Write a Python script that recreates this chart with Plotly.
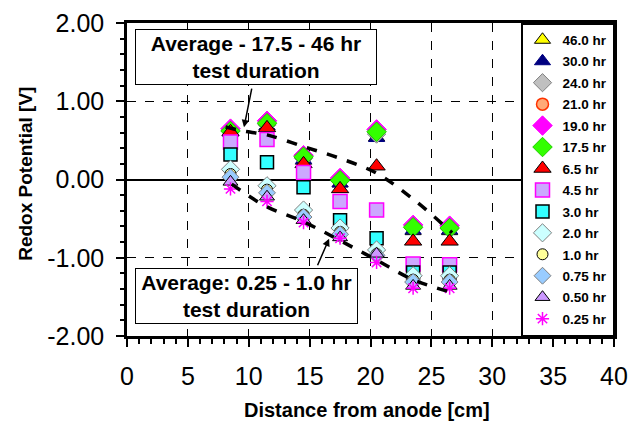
import plotly.graph_objects as go

# ---------------- data ----------------
distance = [8.5, 11.5, 14.5, 17.5, 20.5, 23.5, 26.5]

series_names = ["46.0 hr", "30.0 hr", "24.0 hr", "21.0 hr", "19.0 hr", "17.5 hr", "6.5 hr",
                "4.5 hr", "3.0 hr", "2.0 hr", "1.0 hr", "0.75 hr", "0.50 hr", "0.25 hr"]

h46_0 = [0.60, 0.68, 0.24, -0.05, 0.54, -0.66, -0.66]
h30_0 = [0.60, 0.68, 0.25, -0.05, 0.53, -0.65, -0.65]
h24_0 = [0.62, 0.70, 0.27, -0.02, 0.58, -0.62, -0.63]
h21_0 = [0.63, 0.72, 0.28, -0.01, 0.60, -0.61, -0.62]
h19_0 = [0.65, 0.75, 0.31, 0.02, 0.64, -0.58, -0.59]
h17_5 = [0.62, 0.72, 0.29, -0.01, 0.61, -0.61, -0.62]
h6_5 = [0.61, 0.66, 0.20, -0.12, 0.17, -0.79, -0.79]
h4_5 = [0.48, 0.51, 0.09, -0.28, -0.39, -1.08, -1.09]
h3_0 = [0.32, 0.22, -0.10, -0.52, -0.75, -1.19, -1.19]
h2_0 = [0.13, -0.08, -0.39, -0.62, -0.90, -1.23, -1.23]
h1_0 = [0.07, -0.13, -0.45, -0.67, -0.95, -1.28, -1.28]
h0_75 = [0.03, -0.17, -0.48, -0.70, -0.97, -1.31, -1.31]
h0_50 = [-0.03, -0.22, -0.52, -0.74, -0.95, -1.36, -1.36]
h0_25 = [-0.12, -0.28, -0.55, -0.75, -1.06, -1.39, -1.39]

series_values = [h46_0, h30_0, h24_0, h21_0, h19_0, h17_5, h6_5,
                 h4_5, h3_0, h2_0, h1_0, h0_75, h0_50, h0_25]

avg_high_x = [8.1, 9.5, 11.5, 14.5, 17.5, 20.5, 23.5, 26.7]
avg_high_y = [0.67, 0.62, 0.57, 0.42, 0.27, 0.08, -0.25, -0.68]
avg_low_x = [8.6, 9.8, 11.5, 14.5, 17.5, 20.5, 23.5, 26.8]
avg_low_y = [-0.06, -0.19, -0.35, -0.54, -0.78, -1.03, -1.28, -1.45]

x_ticks = [0, 5, 10, 15, 20, 25, 30, 35, 40]
y_ticks = [-2, -1, 0, 1, 2]

# ---------------- styles ----------------
styles = [
    dict(symbol="triangle-up", size=14, color="#FFFF00", line=dict(color="#000000", width=1)),
    dict(symbol="triangle-up", size=14, color="#000080", line=dict(color="#000080", width=1)),
    dict(symbol="diamond", size=14, color="#C0C0C0", line=dict(color="#808080", width=1)),
    dict(symbol="circle", size=12, color="#FFAA77", line=dict(color="#FF3300", width=1.5)),
    dict(symbol="diamond", size=15, color="#FF00FF", line=dict(color="#FF00FF", width=1)),
    dict(symbol="diamond", size=15, color="#33FF00", line=dict(color="#22CC00", width=1)),
    dict(symbol="triangle-up", size=15, color="#FF0000", line=dict(color="#000000", width=1)),
    dict(symbol="square", size=14, color="#CCA8FF", line=dict(color="#FF00FF", width=1.5)),
    dict(symbol="square", size=13, color="#33FFFF", line=dict(color="#000000", width=1.5)),
    dict(symbol="diamond", size=14, color="#CCFFFF", line=dict(color="#808080", width=1)),
    dict(symbol="circle", size=11, color="#FFFF99", line=dict(color="#000000", width=1)),
    dict(symbol="diamond", size=13, color="#99CCFF", line=dict(color="#808080", width=1)),
    dict(symbol="triangle-up", size=13, color="#CC99FF", line=dict(color="#000000", width=1)),
    dict(symbol="asterisk-open", size=11, color="#FF00FF", line=dict(color="#FF00FF", width=1.5)),
]

FONT = "Arial, 'Liberation Sans', sans-serif"

fig = go.Figure()

for name, vals, st in zip(series_names, series_values, styles):
    fig.add_trace(go.Scatter(
        x=distance, y=vals, mode="markers", name="<b>" + name + "</b>",
        legendgroup=name,
        marker=dict(symbol=st["symbol"], size=st["size"], color=st["color"], line=st["line"]),
    ))

for ax, ay in ((avg_high_x, avg_high_y), (avg_low_x, avg_low_y)):
    fig.add_trace(go.Scatter(
        x=ax, y=ay, mode="lines", showlegend=False, hoverinfo="skip",
        line=dict(color="black", width=3.5, dash="dash", shape="spline"),
    ))

# annotation boxes
box_common = dict(xref="x", yref="y", showarrow=False, bgcolor="white",
                  bordercolor="black", borderwidth=1, borderpad=2,
                  font=dict(family=FONT, size=21, color="black"), align="center")
fig.add_annotation(x=10.6, y=1.564, width=236, text="<b>Average - 17.5 - 46 hr<br>test duration</b>", **box_common)
fig.add_annotation(x=9.81, y=-1.487, width=217, text="<b>Average: 0.25 - 1.0 hr<br>test duration</b>", **box_common)

# arrows
arrow_common = dict(xref="x", yref="y", axref="x", ayref="y", text="", showarrow=True,
                    arrowhead=2, arrowsize=1, arrowwidth=1.5, arrowcolor="black")
fig.add_annotation(x=9.61, y=0.667, ax=10.27, ay=1.18, **arrow_common)
fig.add_annotation(x=16.6, y=-0.756, ax=15.6, ay=-1.115, **arrow_common)

# axis titles
fig.add_annotation(xref="paper", yref="paper", x=0.493, y=-0.236, xanchor="center", yanchor="middle",
                   showarrow=False, text="<b>Distance from anode [cm]</b>",
                   font=dict(family=FONT, size=20, color="black"))
fig.add_annotation(xref="paper", yref="paper", x=-0.209, y=0.519, xanchor="center", yanchor="middle",
                   showarrow=False, textangle=-90, text="<b>Redox Potential [V]</b>",
                   font=dict(family=FONT, size=19, color="black"))

fig.update_layout(
    width=638, height=423,
    margin=dict(l=127, r=24, t=23, b=87, autoexpand=False),
    paper_bgcolor="white", plot_bgcolor="white",
    font=dict(family=FONT, color="black"),
    showlegend=True,
    legend=dict(x=1, xanchor="right", y=1, yanchor="top",
                bgcolor="white", bordercolor="black", borderwidth=1.5,
                font=dict(family=FONT, size=13.5, color="black"),
                tracegroupgap=0.9, traceorder="grouped"),
)

fig.update_xaxes(
    range=[0, 40], tickvals=x_ticks, ticktext=[str(v) for v in x_ticks],
    automargin=False,
    showline=True, linecolor="black", linewidth=2.5, mirror=True,
    ticks="outside", ticklen=8, tickwidth=2, tickcolor="black",
    minor=dict(dtick=1, ticks="outside", ticklen=5, tickwidth=1.5, tickcolor="black", showgrid=False),
    showgrid=True, gridcolor="black", gridwidth=1, griddash="dash",
    zeroline=False,
    ticklabelstandoff=8,
    tickfont=dict(family=FONT, size=25, color="black"),
)

fig.update_yaxes(
    range=[-2, 2], tickvals=y_ticks, ticktext=["%.2f" % v for v in y_ticks],
    automargin=False,
    showline=True, linecolor="black", linewidth=2.5, mirror=True,
    ticks="outside", ticklen=8, tickwidth=2, tickcolor="black",
    minor=dict(dtick=0.2, ticks="outside", ticklen=4, tickwidth=1.5, tickcolor="black", showgrid=False),
    showgrid=True, gridcolor="black", gridwidth=1, griddash="dash",
    zeroline=True, zerolinecolor="black", zerolinewidth=1.5,
    ticklabelstandoff=7,
    tickfont=dict(family=FONT, size=25, color="black"),
)

fig.write_html("out.html")
